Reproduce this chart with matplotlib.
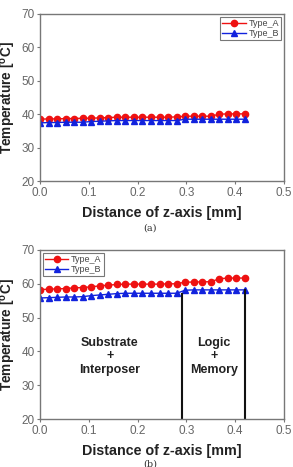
import matplotlib
matplotlib.use("Agg")
import matplotlib.pyplot as plt
import numpy as np

plt.rcParams['font.family'] = ['Liberation Sans', 'DejaVu Sans']

# distance along z-axis [mm]
z_mm = [0.0, 0.0175, 0.035, 0.0525, 0.07, 0.0875, 0.105, 0.1225, 0.14, 0.1575,
        0.175, 0.1925, 0.21, 0.2275, 0.245, 0.2625, 0.28, 0.2975, 0.315, 0.3325,
        0.35, 0.3675, 0.385, 0.4025, 0.42]

# panel (a)
a_type_A = [38.5, 38.6, 38.6, 38.7, 38.7, 38.8, 38.8, 38.9, 39.0, 39.1, 39.1, 39.1, 39.1,
            39.1, 39.1, 39.1, 39.2, 39.4, 39.4, 39.4, 39.4, 40.0, 40.1, 40.1, 40.1]
a_type_B = [37.4, 37.5, 37.5, 37.6, 37.6, 37.6, 37.8, 37.9, 38.0, 38.1, 38.1, 38.1, 38.1,
            38.1, 38.1, 38.1, 38.1, 38.5, 38.5, 38.5, 38.5, 38.5, 38.5, 38.5, 38.5]

# panel (b)
b_type_A = [58.3, 58.4, 58.5, 58.6, 58.8, 58.9, 59.1, 59.4, 59.6, 59.8, 59.9, 59.9, 59.9,
            59.9, 59.9, 60.0, 60.0, 60.5, 60.5, 60.6, 60.6, 61.5, 61.7, 61.7, 61.7]
b_type_B = [55.8, 55.9, 56.0, 56.1, 56.1, 56.2, 56.5, 56.7, 56.9, 57.1, 57.2, 57.2, 57.2,
            57.2, 57.2, 57.2, 57.2, 58.1, 58.2, 58.2, 58.2, 58.2, 58.2, 58.2, 58.2]

# region boundaries in panel (b)
boundary_x = [0.29, 0.42]
boundary_top = [57.1, 58.2]
region_labels = ["Substrate\n+\nInterposer", "Logic\n+\nMemory"]
region_x = [0.143, 0.357]

x_ticks = [0.0, 0.1, 0.2, 0.3, 0.4, 0.5]
y_ticks = [20, 30, 40, 50, 60, 70]

W, H = 293, 467
fig = plt.figure(figsize=(W / 100, H / 100), dpi=100)

def px_axes(l, t, r, b):
    return fig.add_axes([l / W, 1 - b / H, (r - l) / W, (b - t) / H])

ax_a = px_axes(40, 14, 284, 181)
ax_b = px_axes(40, 250, 284, 419)

def style(ax, legend_loc, legend_anchor):
    ax.set_xlim(0, 0.5)
    ax.set_ylim(20, 70)
    ax.set_xticks(x_ticks)
    ax.set_yticks(y_ticks)
    ax.set_xticklabels([f"{v:.1f}" for v in x_ticks])
    ax.tick_params(direction='out', length=2.5, width=0.8, colors='#777777',
                   labelsize=8.5, labelcolor='#666666', pad=1.5)
    for s in ax.spines.values():
        s.set_color('#777777')
        s.set_linewidth(1.0)
    ax.set_xlabel("Distance of z-axis [mm]", fontsize=10.3, fontweight='bold',
                  color='#222222', labelpad=5)
    ax.set_ylabel("Temperature [$\\mathregular{^o}$C]", fontsize=9.8, fontweight='bold',
                  color='#222222', va='center')
    ax.yaxis.set_label_coords(-31 / 244, 0.5)
    leg = ax.legend(loc=legend_loc, bbox_to_anchor=legend_anchor, fontsize=6.5,
                    frameon=True, fancybox=False, edgecolor='#555555',
                    handlelength=2.6, handletextpad=0.3, borderpad=0.25,
                    labelspacing=0.1, borderaxespad=0.3)
    leg.get_frame().set_linewidth(0.8)
    for t in leg.get_texts():
        t.set_color('#444444')

for ax, ya, yb in [(ax_a, a_type_A, a_type_B), (ax_b, b_type_A, b_type_B)]:
    ax.plot(z_mm, ya, color='#ee1111', marker='o', markersize=4.5, lw=1.0,
            label='Type_A')
    ax.plot(z_mm, yb, color='#1122dd', marker='^', markersize=4.5, lw=1.0,
            label='Type_B')

style(ax_a, 'upper right', (1.0, 1.0))
style(ax_b, 'upper left', (0.0, 1.0))

for bx, bt in zip(boundary_x, boundary_top):
    ax_b.plot([bx, bx], [20, bt], color='#111111', lw=1.5)

for rx, lab in zip(region_x, region_labels):
    ax_b.text(rx, 38.5, lab, ha='center', va='center', fontsize=9,
              fontweight='bold', color='#222222', linespacing=1.15)

fig.text(150 / W, 1 - 228 / H, "(a)", ha='center', va='center', fontsize=7,
         family=['DejaVu Serif'], color='#333333')
fig.text(150 / W, 1 - 464 / H, "(b)", ha='center', va='center', fontsize=7,
         family=['DejaVu Serif'], color='#333333')

fig.savefig("out.png", dpi=100)
